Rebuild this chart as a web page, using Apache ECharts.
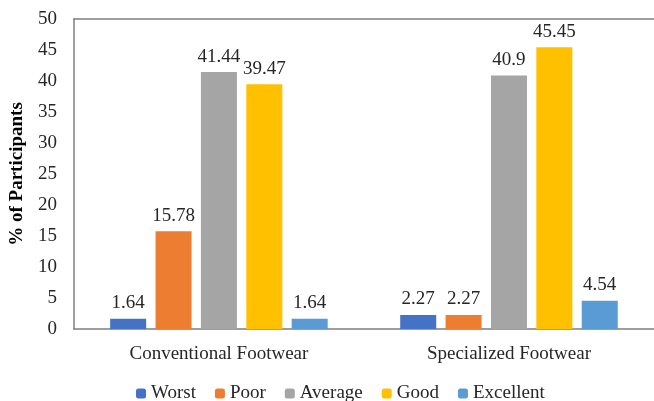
<!DOCTYPE html>
<html lang="en">
  <head>
    <meta charset="UTF-8" />
    <title>Footwear ratings</title>
    <style>
      html, body { margin: 0; padding: 0; background: #fff; }
      #chart { width: 654px; height: 401px; }
    </style>
  </head>
  <body>
    <div id="chart"></div>
    <script src="https://cdn.jsdelivr.net/npm/echarts@6/dist/echarts.min.js"></script>
    <script>
      const categories = ["Conventional Footwear", "Specialized Footwear"];
      const ratings = ["Worst", "Poor", "Average", "Good", "Excellent"];
      const worst = [1.64, 2.27];
      const poor = [15.78, 2.27];
      const average = [41.44, 40.9];
      const good = [39.47, 45.45];
      const excellent = [1.64, 4.54];
      const colors = ["#4472C4", "#ED7D31", "#A5A5A5", "#FFC000", "#5B9BD5"];

      const font = "'Liberation Serif', 'Times New Roman', serif";
      const values = [worst, poor, average, good, excellent];

      const chart = echarts.init(document.getElementById("chart"));
      chart.setOption({
        animation: false,
        color: colors,
        textStyle: { fontFamily: font },
        grid: { left: 70, right: 0, top: 19, bottom: 72 },
        legend: {
          top: 379,
          left: 131,
          itemWidth: 10,
          itemHeight: 10,
          itemGap: 19,
          textStyle: { fontFamily: font, fontSize: 19, color: "#262626" },
          data: ratings
        },
        xAxis: [
          {
            type: "category",
            data: categories,
            axisLine: { lineStyle: { color: "#7f7f7f", width: 1.5 } },
            axisTick: { show: false },
            axisLabel: { fontFamily: font, fontSize: 19, color: "#262626", margin: 16 }
          },
          {
            type: "category",
            position: "top",
            data: categories,
            axisLine: { lineStyle: { color: "#7f7f7f", width: 1.5 } },
            axisTick: { show: false },
            axisLabel: { show: false }
          }
        ],
        yAxis: {
          type: "value",
          min: 0,
          max: 50,
          interval: 5,
          name: "% of Participants",
          nameLocation: "middle",
          nameGap: 39,
          nameTextStyle: { fontFamily: font, fontSize: 19, fontWeight: "bold", color: "#000" },
          axisLine: { show: true, lineStyle: { color: "#7f7f7f", width: 1.5 } },
          axisTick: { show: false },
          splitLine: { show: false },
          axisLabel: { fontFamily: font, fontSize: 19, color: "#262626", margin: 17 }
        },
        series: ratings.map((name, i) => ({
          name: name,
          type: "bar",
          data: values[i],
          barGap: "26%",
          barCategoryGap: "25%",
          label: {
            show: true,
            position: "top",
            distance: 6,
            fontFamily: font,
            fontSize: 19,
            color: "#262626"
          }
        }))
      });
    </script>
  </body>
</html>
